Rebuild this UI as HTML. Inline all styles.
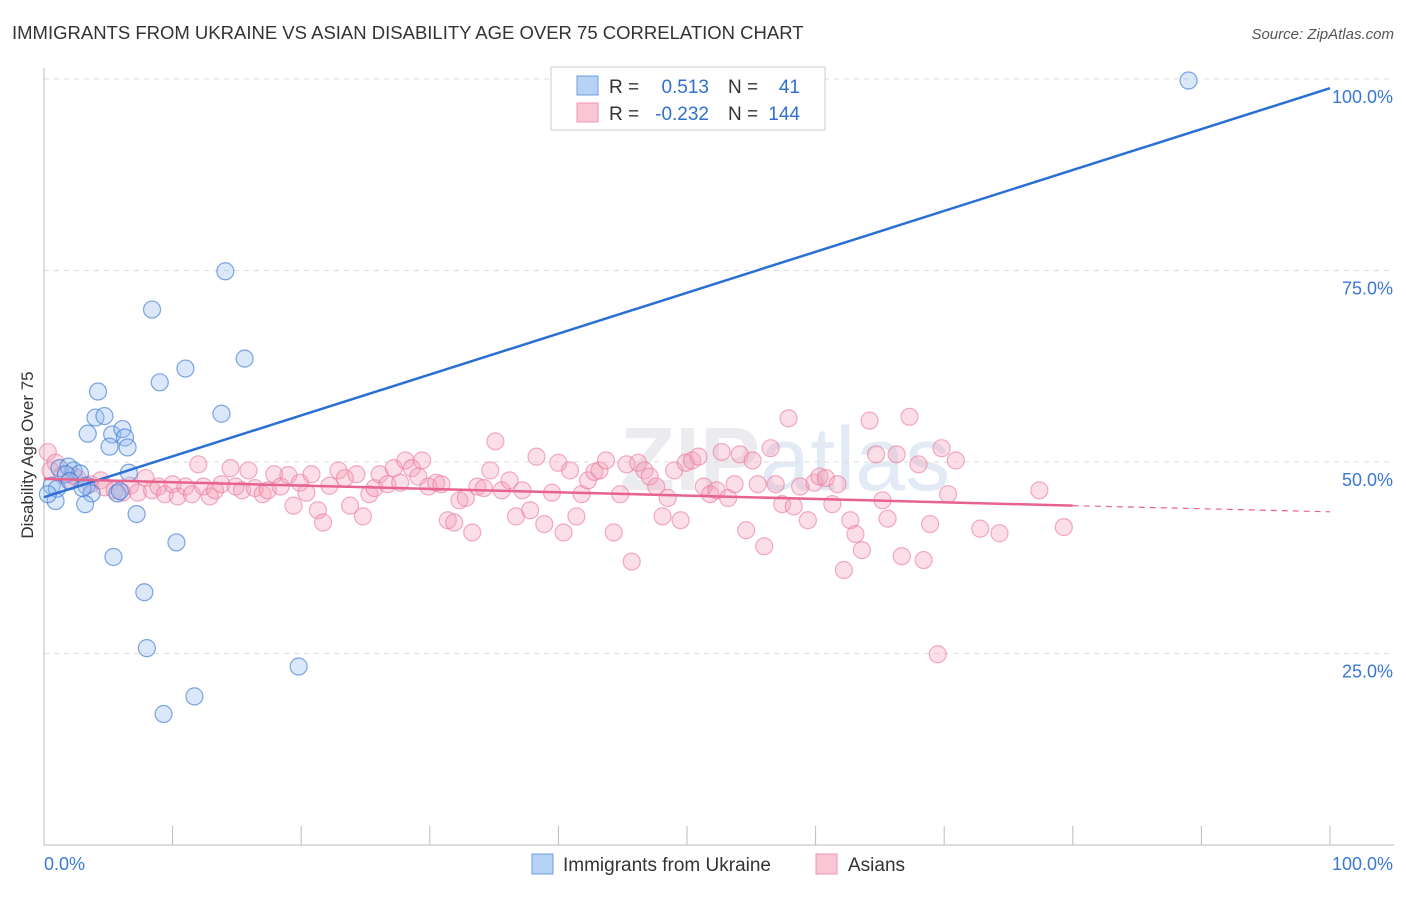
<!DOCTYPE html>
<html><head><meta charset="utf-8"><style>
body{margin:0;background:#fff;font-family:"Liberation Sans",sans-serif}
svg text{font-family:"Liberation Sans",sans-serif}
</style></head><body>
<svg id="chart" width="1406" height="892" xmlns="http://www.w3.org/2000/svg">
<text x="12" y="39" font-size="18.5" fill="#333">IMMIGRANTS FROM UKRAINE VS ASIAN DISABILITY AGE OVER 75 CORRELATION CHART</text>
<text x="1394" y="39" font-size="15" fill="#555" font-style="italic" text-anchor="end">Source: ZipAtlas.com</text>
<text x="620" y="490" font-size="90" font-weight="bold" fill="#ececf0">ZIP<tspan font-weight="normal" fill="#e2eaf5">atlas</tspan></text>
<g id="grid"></g>
<g id="axes"></g>
<text transform="translate(33,455) rotate(-90)" font-size="17" fill="#333" text-anchor="middle">Disability Age Over 75</text>
<g id="pink"></g>
<g id="blue"></g>
<g id="lines"></g>
<g>
<rect x="551" y="67" width="274" height="63" fill="#fff" stroke="#ccc"/>
<rect x="577" y="76" width="21" height="19" fill="#b8d2f5" stroke="#6d9de0"/>
<rect x="577" y="103" width="21" height="19" fill="#f9c6d4" stroke="#ee94ae"/>
<text x="609" y="93" font-size="19" fill="#333">R =</text>
<text x="709" y="93" font-size="19" fill="#2f6fd0" text-anchor="end">0.513</text>
<text x="728" y="93" font-size="19" fill="#333">N =</text>
<text x="800" y="93" font-size="19" fill="#2f6fd0" text-anchor="end">41</text>
<text x="609" y="120" font-size="19" fill="#333">R =</text>
<text x="709" y="120" font-size="19" fill="#2f6fd0" text-anchor="end">-0.232</text>
<text x="728" y="120" font-size="19" fill="#333">N =</text>
<text x="800" y="120" font-size="19" fill="#2f6fd0" text-anchor="end">144</text>
</g>
<g>
<rect x="532" y="854" width="21" height="20" fill="#b8d2f5" stroke="#6d9de0"/>
<text x="563" y="871" font-size="19" fill="#333">Immigrants from Ukraine</text>
<rect x="816" y="854" width="21" height="20" fill="#f9c6d4" stroke="#ee94ae"/>
<text x="848" y="871" font-size="19" fill="#333">Asians</text>
</g>
</svg>
<script>
const yTicks=[25,50,75,100];
const yTickLabels=["25.0%","50.0%","75.0%","100.0%"];
const xTicks=[0,10,20,30,40,50,60,70,80,90,100];
const xEndLabels=["0.0%","100.0%"];
const blueX=[89.0,14.1,8.4,15.6,11.0,9.0,4.2,13.8,4.0,4.7,3.4,5.3,6.1,6.3,5.1,6.5,6.6,1.2,1.9,2.3,2.8,1.7,0.6,1.0,0.9,0.3,3.3,3.7,3.0,5.7,5.9,3.2,7.2,5.4,10.3,7.8,8.0,19.8,11.7,9.3,2.0];
const blueY=[99.8,74.9,69.9,63.5,62.2,60.4,59.2,56.3,55.8,56.0,53.7,53.6,54.3,53.2,52.0,51.9,48.6,49.2,49.4,48.9,48.5,48.4,46.9,46.5,44.9,45.8,46.9,45.9,46.6,45.9,46.2,44.5,43.2,37.6,39.5,33.0,25.7,23.3,19.4,17.1,47.5];
const pinkX=[0.3,0.9,0.5,1.4,2.0,2.6,3.6,4.4,4.7,5.5,6.1,6.7,7.3,7.9,8.4,8.9,9.4,10.0,10.4,11.0,11.5,12.0,12.4,12.9,13.3,13.8,14.5,14.9,15.4,15.9,16.4,17.0,17.4,17.9,18.4,19.0,19.4,19.9,20.4,20.8,21.3,21.7,22.2,22.9,23.4,23.8,24.3,24.8,25.3,25.7,26.1,26.7,27.2,27.7,28.1,28.6,29.1,29.4,29.9,30.5,30.9,31.4,31.9,32.3,32.8,33.3,33.7,34.2,34.7,35.1,35.6,36.2,36.7,37.2,37.8,38.3,38.9,39.5,40.0,40.4,40.9,41.4,41.8,42.3,42.8,43.2,43.7,44.3,44.8,45.3,45.7,46.2,46.7,47.1,47.6,48.1,48.5,49.0,49.5,49.9,50.4,50.9,51.3,51.8,52.3,52.7,53.2,53.7,54.1,54.6,55.1,55.5,56.0,56.5,56.9,57.4,57.9,58.3,58.8,59.4,59.9,60.3,60.8,61.3,61.7,62.2,62.7,63.1,63.6,64.2,64.7,65.2,65.6,66.3,66.7,67.3,68.0,68.4,68.9,69.5,69.8,70.3,70.9,72.8,74.3,77.4,79.3,2.3];
const pinkY=[51.3,49.9,48.9,48.3,47.6,47.9,47.1,47.6,46.7,46.3,46.0,46.9,46.0,47.9,46.3,46.8,45.8,47.1,45.5,46.8,45.8,49.7,46.8,45.5,46.3,47.1,49.2,46.8,46.3,48.9,46.6,45.8,46.3,48.4,46.8,48.3,44.3,47.3,46.0,48.4,43.7,42.1,46.9,48.9,47.9,44.3,48.4,42.9,45.8,46.6,48.4,47.1,49.2,47.3,50.2,49.2,48.1,50.2,46.8,47.3,47.1,42.4,42.1,45.0,45.3,40.8,46.8,46.6,48.9,52.7,46.3,47.6,42.9,46.3,43.7,50.7,41.9,46.0,49.9,40.8,48.9,42.9,45.8,47.6,48.7,48.9,50.2,40.8,45.8,49.7,37.0,49.9,48.9,48.1,46.8,42.9,45.3,48.9,42.4,49.9,50.2,50.7,46.8,45.8,46.3,51.3,45.3,47.1,51.0,41.1,50.2,47.1,39.0,51.8,47.1,44.5,55.7,44.2,46.8,42.4,47.3,48.1,47.9,44.5,47.1,35.9,42.4,40.6,38.5,55.4,51.0,45.0,42.6,51.0,37.7,55.9,49.7,37.2,41.9,24.9,51.8,45.8,50.2,41.3,40.7,46.3,41.5,48.2];
const blueTrend=[[0,45.4],[100,98.8]];
const pinkTrend=[[0,47.8],[80,44.3],[100,43.5]];
const X0=44,X1=1330,Y0=845,Y100=79;
const sx=v=>X0+(X1-X0)*v/100, sy=v=>Y0-(Y0-Y100)*v/100;
const NS="http://www.w3.org/2000/svg";
function mk(t,a,p){const e=document.createElementNS(NS,t);for(const k in a)e.setAttribute(k,a[k]);p.appendChild(e);return e;}
const grid=document.getElementById('grid'),axes=document.getElementById('axes');
yTicks.forEach((t,i)=>{
 const g=mk('line',{x1:X0,x2:1394,y1:sy(t),y2:sy(t),stroke:'#ddd','stroke-dasharray':'5,5'},grid);
 
 
 const tx=mk('text',{x:1393,y:sy(t)+24,'font-size':18,fill:'#3a78d4','text-anchor':'end'},axes);
 tx.textContent=yTickLabels[i];
 
 
});
mk('line',{x1:X0,x2:X0,y1:68,y2:845,stroke:'#bbb'},axes);
mk('line',{x1:X0,x2:1394,y1:845,y2:845,stroke:'#bbb'},axes);
xTicks.forEach(t=>{
 const l=mk('line',{x1:sx(t),x2:sx(t),y1:826,y2:845,stroke:'#bbb'},axes);
 
 
});
const xl0=mk('text',{x:44,y:870,'font-size':18,fill:'#3a78d4'},axes);xl0.textContent=xEndLabels[0];


const xl1=mk('text',{x:1393,y:870,'font-size':18,fill:'#3a78d4','text-anchor':'end'},axes);xl1.textContent=xEndLabels[1];


const pg=document.getElementById('pink');
pinkX.forEach((v,i)=>{const c=mk('circle',{cx:sx(v),cy:sy(pinkY[i]),r:8.5,fill:'rgba(244,160,185,0.35)',stroke:'rgba(235,120,155,0.6)','stroke-width':1.2},pg);
 
 });
const bg=document.getElementById('blue');
blueX.forEach((v,i)=>{const c=mk('circle',{cx:sx(v),cy:sy(blueY[i]),r:8.5,fill:'rgba(150,190,240,0.35)',stroke:'rgba(60,120,210,0.65)','stroke-width':1.2},bg);
 
 });
const lg=document.getElementById('lines');
const bl=mk('line',{x1:sx(blueTrend[0][0]),y1:sy(blueTrend[0][1]),x2:sx(blueTrend[1][0]),y2:sy(blueTrend[1][1]),stroke:'#2b6fd6','stroke-width':2.5},lg);


const pl=mk('line',{x1:sx(pinkTrend[0][0]),y1:sy(pinkTrend[0][1]),x2:sx(pinkTrend[1][0]),y2:sy(pinkTrend[1][1]),stroke:'#e8628e','stroke-width':2.5},lg);


const pd=mk('line',{x1:sx(pinkTrend[1][0]),y1:sy(pinkTrend[1][1]),x2:sx(pinkTrend[2][0]),y2:sy(pinkTrend[2][1]),stroke:'#e8628e','stroke-width':1.2,'stroke-dasharray':'6,5'},lg);


</script>
</body></html>
